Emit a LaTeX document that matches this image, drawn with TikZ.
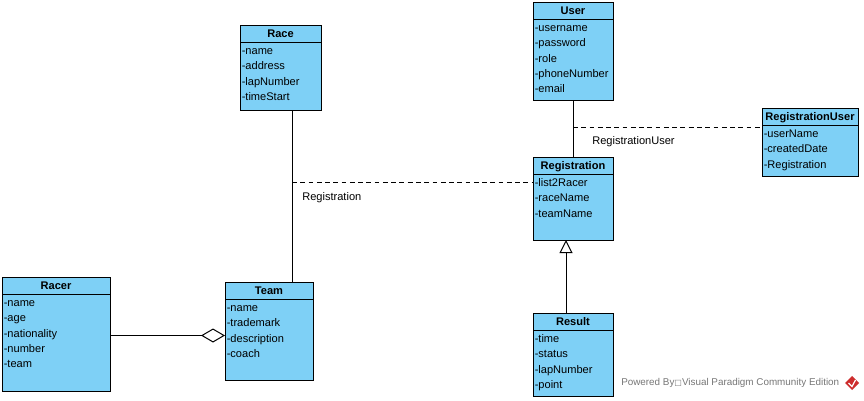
\documentclass[tikz,border=0pt]{standalone}
\usepackage{fontspec}
\setmainfont{Liberation Sans}
\newfontfamily\symfont{DejaVu Sans}
\usetikzlibrary{arrows.meta,calc}

\definecolor{classfill}{RGB}{126,208,246}
\definecolor{footgray}{RGB}{118,118,118}
\definecolor{logored}{RGB}{205,45,45}

\tikzset{
  clsbox/.style={draw=black, fill=classfill, line width=0.75pt, inner sep=0pt, outer sep=0pt},
  clstitle/.style={font=\bfseries\fontsize{8.3}{10}\selectfont, inner sep=0pt,
                   text height=1.5ex, text depth=.25ex},
  attr/.style={font=\fontsize{8.3}{10}\selectfont, inner sep=0pt, anchor=west,
               text height=1.5ex, text depth=.25ex},
  conn/.style={draw=black, line width=0.75pt},
  assoc/.style={conn, dash pattern=on 3.6pt off 2.6pt},
  lbl/.style={font=\fontsize{8.3}{10}\selectfont, inner sep=0pt, anchor=west,
              text height=1.5ex, text depth=.25ex},
  gen/.style={conn, -{Triangle[open, length=9.75pt, width=9.75pt, line width=0.75pt]}},
  agg/.style={conn, {Diamond[open, length=18pt, width=10.5pt, line width=0.75pt]}-},
  foot/.style={font=\fontsize{7.4}{9}\selectfont, text=footgray, inner sep=0pt, anchor=west}
}

% class box: name, left, top, width, height, title, attributes
\newcommand{\umlclass}[7]{%
  \node[clsbox, anchor=north west, minimum width=#4*0.75pt, minimum height=#5*0.75pt] (#1) at (#2,#3) {};
  \draw[conn] ($(#1.north west)+(0,17)$) -- ($(#1.north east)+(0,17)$);
  \node[clstitle] at ($(#1.north)+(0,8.5)$) {#6};
  \foreach \attrtext [count=\i] in {#7} {
    \node[attr] at ($(#1.north west)+(1.5,{10+15.2*\i})$) {\attrtext};
  }%
}

\begin{document}
\begin{tikzpicture}[x=0.75pt, y=-0.75pt]
  \useasboundingbox (0,0) rectangle (864,400);

  \umlclass{race}{240}{25}{81}{85}{Race}{-name,-address,-lapNumber,-timeStart}
  \umlclass{user}{533}{2}{80}{98}{User}{-username,-password,-role,-phoneNumber,-email}
  \umlclass{reguser}{762}{108}{96}{68}{RegistrationUser}{-userName,-createdDate,-Registration}
  \umlclass{registration}{533}{157}{80}{83}{Registration}{-list2Racer,-raceName,-teamName}
  \umlclass{racer}{2}{277}{108}{114}{Racer}{-name,-age,-nationality,-number,-team}
  \umlclass{team}{225}{282}{88}{98}{Team}{-name,-trademark,-description,-coach}
  \umlclass{result}{533}{313}{80}{83}{Result}{-time,-status,-lapNumber,-point}

  % Race -- Team association with association class Registration
  \draw[conn] ($(race.south west)+(52,0)$) -- ($(team.north west)+(67,0)$);
  \coordinate (ra) at ($($(race.south west)+(52,0)$)!0.4186!($(team.north west)+(67,0)$)$);
  \draw[assoc] (ra) -- (ra -| registration.west);
  \node[lbl] at ($(ra)+(10,14)$) {Registration};

  % User -- Registration association with association class RegistrationUser
  \draw[conn] (user.south) -- (registration.north);
  \coordinate (ua) at ($(user.south)!0.49!(registration.north)$);
  \draw[assoc] (ua) -- (ua -| reguser.west);
  \node[lbl] at ($(ua)+(19,12)$) {RegistrationUser};

  % Result specialises Registration
  \draw[gen] ($(result.north)+(-7,0)$) -- ($(registration.south)+(-7,0)$);

  % Team aggregates Racer
  \draw[agg] ($(team.west |- racer.east)+(0,1.5)$) -- ($(racer.east)+(0,1.5)$);

  % footer
  \node[foot] (footer) at (621,383) {Powered By{\symfont\fontsize{6}{8}\selectfont □}Visual Paradigm Community Edition};
  \fill[logored] (852,376) -- (859,383) -- (852,390) -- (845,383) -- cycle;
  \draw[white, line width=0.9pt] (848.5,383) -- (852,386.5) -- (855.5,380);
\end{tikzpicture}
\end{document}
